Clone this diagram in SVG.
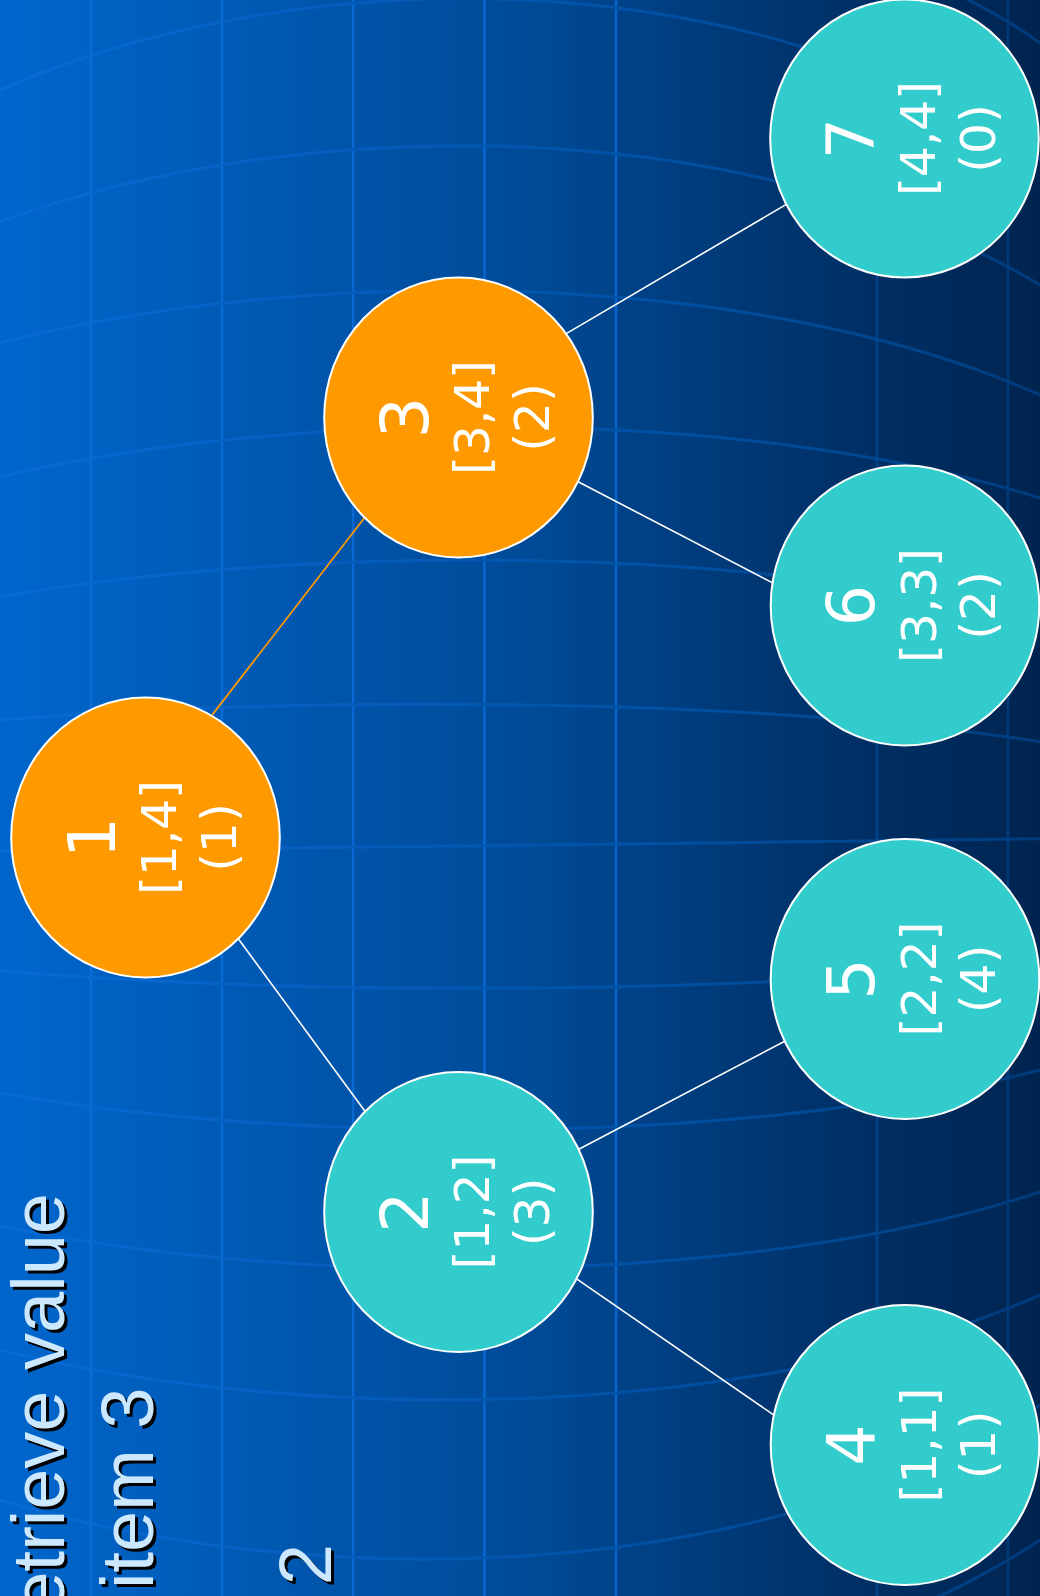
<svg xmlns="http://www.w3.org/2000/svg" width="1040" height="1596" viewBox="0 0 1040 1596">
<defs>
<linearGradient id="bg" x1="0" y1="0" x2="1040" y2="0" gradientUnits="userSpaceOnUse">
<stop offset="0" stop-color="#0066cc"/>
<stop offset="0.5" stop-color="#004b98"/>
<stop offset="0.75" stop-color="#003570"/>
<stop offset="1" stop-color="#002450"/>
</linearGradient>
<linearGradient id="gl" x1="0" y1="0" x2="1040" y2="0" gradientUnits="userSpaceOnUse">
<stop offset="0" stop-color="#0a6edc"/>
<stop offset="0.6" stop-color="#0864cc"/>
<stop offset="0.84" stop-color="#00438a"/>
<stop offset="1" stop-color="#003a75"/>
</linearGradient>
<linearGradient id="gc" x1="0" y1="0" x2="1040" y2="0" gradientUnits="userSpaceOnUse">
<stop offset="0" stop-color="#086bd6"/>
<stop offset="0.35" stop-color="#055cbc"/>
<stop offset="0.6" stop-color="#0052a6"/>
<stop offset="0.85" stop-color="#00468e"/>
<stop offset="1" stop-color="#003b7c"/>
</linearGradient>
<style>
.grid{fill:none;stroke:url(#gc);stroke-width:3}
.vl{stroke:url(#gl);stroke-width:2.5}
.edge{stroke:#ffffff;stroke-width:1.6}
.hot{stroke:#ff9900;stroke-width:1.8}
.n{stroke:#ffffff;stroke-width:2}
.orange{fill:#ff9900}
.teal{fill:#33cccc}
.big{font-family:"DejaVu Sans",sans-serif;font-size:65px;fill:#ffffff;text-anchor:middle}
.sm{font-family:"DejaVu Sans",sans-serif;font-size:48.5px;fill:#ffffff;text-anchor:middle}
.title{font-family:"Liberation Sans",Arial,sans-serif;font-size:74px}
</style>
</defs>
<rect width="1040" height="1596" fill="url(#bg)"/>
<g id="background-grid">
<line class="vl" x1="91" y1="0" x2="91" y2="1596"/>
<line class="vl" x1="222" y1="0" x2="222" y2="1596"/>
<line class="vl" x1="353" y1="0" x2="353" y2="1596"/>
<line class="vl" x1="484.5" y1="0" x2="484.5" y2="1596"/>
<line class="vl" x1="616" y1="0" x2="616" y2="1596"/>
<line class="vl" x1="877" y1="0" x2="877" y2="1596"/>
<line class="vl" x1="1008" y1="0" x2="1008" y2="1596"/>
<path class="grid" d="M900,-30 Q980,0 1040,43"/>
<path class="grid" d="M0,90 C300,-41.7 750,-41.7 1040,160"/>
<path class="grid" d="M0,221.7 C300,111.6 750,111.6 1040,285"/>
<path class="grid" d="M0,343 C300,265.9 750,265.9 1040,395"/>
<path class="grid" d="M0,476.7 C300,407 750,407 1040,498"/>
<path class="grid" d="M0,596.7 C300,544.5 750,544.5 1040,620"/>
<path class="grid" d="M0,720 C300,696.4 750,696.4 1040,741.7"/>
<path class="grid" d="M0,851 C300,848 750,843 1040,838.7"/>
<path class="grid" d="M0,970.7 C300,995.6 750,995.6 1040,960"/>
<path class="grid" d="M0,1093 C300,1145.5 750,1145.5 1040,1070"/>
<path class="grid" d="M0,1226 C300,1287.7 750,1287.7 1040,1192"/>
<path class="grid" d="M0,1350 C300,1423.7 750,1423.7 1040,1295"/>
<path class="grid" d="M0,1500 C300,1590.5 750,1590.5 1040,1405"/>
<path class="grid" d="M0,1640 C300,1732 750,1732 1040,1540"/>
</g>
<g id="title">
<g transform="translate(3,3)" fill="#000000">
<text class="title" transform="translate(64,1193) rotate(-90)" text-anchor="end">etrieve value</text>
<text class="title" transform="translate(153,1589) rotate(-90)">item 3</text>
<text class="title" transform="translate(331,1544) rotate(-90)" text-anchor="end">2</text>
</g>
<g fill="#cce8ff">
<text class="title" transform="translate(64,1193) rotate(-90)" text-anchor="end">etrieve value</text>
<text class="title" transform="translate(153,1589) rotate(-90)">item 3</text>
<text class="title" transform="translate(331,1544) rotate(-90)" text-anchor="end">2</text>
</g>
</g>
<g id="connectors">
<line class="hot" x1="208" y1="720.4" x2="367.6" y2="513.8"/>
<line class="edge" x1="235" y1="934.3" x2="367.4" y2="1114.5"/>
<line class="edge" x1="562.4" y1="335.9" x2="791" y2="201.6"/>
<line class="edge" x1="573.8" y1="479.5" x2="776" y2="584.6"/>
<line class="edge" x1="572.6" y1="1152.5" x2="789" y2="1039"/>
<line class="edge" x1="571.9" y1="1275.6" x2="777.5" y2="1417.6"/>
</g>
<g id="node1">
<ellipse class="n orange" cx="145.5" cy="837.5" rx="134.3" ry="140"/>
<g transform="translate(145.5,837.5) rotate(-90)">
<text class="big" y="-31">1</text>
<text class="sm" y="30.5">[1,4]</text>
<text class="sm" y="90">(1)</text>
</g>
</g>
<g id="node2">
<ellipse class="n teal" cx="458.5" cy="1212" rx="134.3" ry="140"/>
<g transform="translate(458.5,1212) rotate(-90)">
<text class="big" y="-31">2</text>
<text class="sm" y="30.5">[1,2]</text>
<text class="sm" y="90">(3)</text>
</g>
</g>
<g id="node3">
<ellipse class="n orange" cx="458.5" cy="417.5" rx="134.3" ry="140"/>
<g transform="translate(458.5,417.5) rotate(-90)">
<text class="big" y="-31">3</text>
<text class="sm" y="30.5">[3,4]</text>
<text class="sm" y="90">(2)</text>
</g>
</g>
<g id="node4">
<ellipse class="n teal" cx="905" cy="1445" rx="134.3" ry="140"/>
<g transform="translate(905,1445) rotate(-90)">
<text class="big" y="-31">4</text>
<text class="sm" y="30.5">[1,1]</text>
<text class="sm" y="90">(1)</text>
</g>
</g>
<g id="node5">
<ellipse class="n teal" cx="905" cy="979" rx="134.3" ry="140"/>
<g transform="translate(905,979) rotate(-90)">
<text class="big" y="-31">5</text>
<text class="sm" y="30.5">[2,2]</text>
<text class="sm" y="90">(4)</text>
</g>
</g>
<g id="node6">
<ellipse class="n teal" cx="905" cy="605.5" rx="134.3" ry="140"/>
<g transform="translate(905,605.5) rotate(-90)">
<text class="big" y="-31">6</text>
<text class="sm" y="30.5">[3,3]</text>
<text class="sm" y="90">(2)</text>
</g>
</g>
<g id="node7">
<ellipse class="n teal" cx="904.5" cy="138.5" rx="134.3" ry="139"/>
<g transform="translate(904.5,138.5) rotate(-90)">
<text class="big" y="-31">7</text>
<text class="sm" y="30.5">[4,4]</text>
<text class="sm" y="90">(0)</text>
</g>
</g>
</svg>
